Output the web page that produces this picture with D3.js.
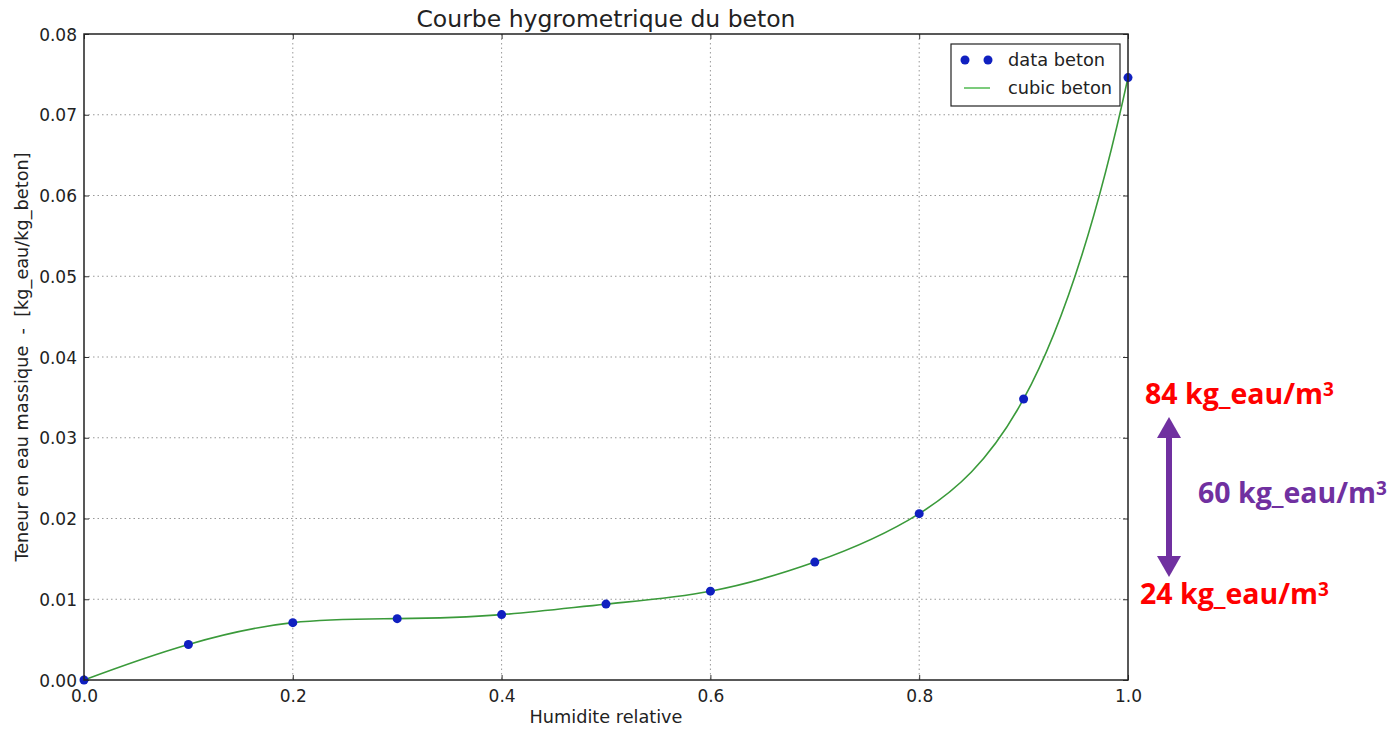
<!DOCTYPE html>
<html lang="fr">
<head>
	<meta charset="UTF-8">
	<title>Courbe hygrometrique du beton</title>
	<script src="https://cdn.jsdelivr.net/npm/d3@7"></script>
	<style>
		body { margin: 0; background: #fff; }
		text { font-family: "DejaVu Sans", sans-serif; fill: #222; }
		.grid line { stroke: #999; stroke-dasharray: 1.5,3; stroke-width: 1; }
		.note { font-family: "Open Sans", "Lato", sans-serif; font-weight: bold; }
	</style>
</head>
<body>
	<svg id="svg"></svg>
	<script>
		// humidite relative / teneur en eau massique
		var humidite = [0.0, 0.1, 0.2, 0.3, 0.4, 0.5, 0.6, 0.7, 0.8, 0.9, 1.0];
		var teneur = [0.0, 0.0044, 0.0071, 0.0076, 0.0081, 0.0094, 0.0110, 0.0146, 0.0206, 0.0348, 0.0746];
		var xTicks = [0.0, 0.2, 0.4, 0.6, 0.8, 1.0];
		var yTicks = [0.00, 0.01, 0.02, 0.03, 0.04, 0.05, 0.06, 0.07, 0.08];
		var legendLabels = ["data beton", "cubic beton"];
		var notes = ["84 kg_eau/m", "60 kg_eau/m", "24 kg_eau/m"];

		var w = 1398, h = 730,
			pLeft = 84, pRight = 1128, pTop = 34, pBottom = 680;
		var svg = d3.select("#svg").attr("width", w).attr("height", h);

		var x = d3.scaleLinear().domain([0, 1]).range([pLeft, pRight]);
		var y = d3.scaleLinear().domain([0, 0.08]).range([pBottom, pTop]);

		// courbe d3 : spline cubique "not-a-knot" (comme interp1d kind='cubic')
		function curveNotAKnot(context) {
			var xs, ys;
			return {
				areaStart: function() {}, areaEnd: function() {},
				lineStart: function() { xs = []; ys = []; },
				point: function(px, py) { xs.push(+px); ys.push(+py); },
				lineEnd: function() {
					var n = xs.length;
					if (n < 4) {
						context.moveTo(xs[0], ys[0]);
						for (var k = 1; k < n; k++) context.lineTo(xs[k], ys[k]);
						return;
					}
					var hs = [];
					for (var i = 0; i < n - 1; i++) hs.push(xs[i + 1] - xs[i]);
					// systeme sur les derivees secondes M
					var A = [], b = [];
					for (i = 0; i < n; i++) { A.push(new Array(n).fill(0)); b.push(0); }
					A[0][0] = hs[1]; A[0][1] = -(hs[0] + hs[1]); A[0][2] = hs[0];
					for (i = 1; i < n - 1; i++) {
						A[i][i - 1] = hs[i - 1]; A[i][i] = 2 * (hs[i - 1] + hs[i]); A[i][i + 1] = hs[i];
						b[i] = 6 * ((ys[i + 1] - ys[i]) / hs[i] - (ys[i] - ys[i - 1]) / hs[i - 1]);
					}
					A[n - 1][n - 3] = hs[n - 2]; A[n - 1][n - 2] = -(hs[n - 3] + hs[n - 2]); A[n - 1][n - 1] = hs[n - 3];
					// elimination de Gauss avec pivot
					for (var c = 0; c < n; c++) {
						var p = c;
						for (var r = c + 1; r < n; r++) if (Math.abs(A[r][c]) > Math.abs(A[p][c])) p = r;
						var t = A[c]; A[c] = A[p]; A[p] = t; t = b[c]; b[c] = b[p]; b[p] = t;
						for (r = c + 1; r < n; r++) {
							var f = A[r][c] / A[c][c];
							for (var j = c; j < n; j++) A[r][j] -= f * A[c][j];
							b[r] -= f * b[c];
						}
					}
					var M = new Array(n).fill(0);
					for (i = n - 1; i >= 0; i--) {
						var s = b[i];
						for (j = i + 1; j < n; j++) s -= A[i][j] * M[j];
						M[i] = s / A[i][i];
					}
					context.moveTo(xs[0], ys[0]);
					for (i = 0; i < n - 1; i++) {
						var hh = hs[i], d = (ys[i + 1] - ys[i]) / hh;
						var s0 = d - hh * (2 * M[i] + M[i + 1]) / 6;
						var s1 = d + hh * (M[i] + 2 * M[i + 1]) / 6;
						context.bezierCurveTo(xs[i] + hh / 3, ys[i] + s0 * hh / 3,
							xs[i + 1] - hh / 3, ys[i + 1] - s1 * hh / 3, xs[i + 1], ys[i + 1]);
					}
				}
			};
		}

		// grille pointillee
		svg.append("g").attr("class", "grid")
			.selectAll("line").data(xTicks.slice(1, -1)).enter().append("line")
			.attr("x1", function(d) { return x(d); }).attr("x2", function(d) { return x(d); })
			.attr("y1", pTop).attr("y2", pBottom);
		svg.append("g").attr("class", "grid")
			.selectAll("line").data(yTicks.slice(1, -1)).enter().append("line")
			.attr("y1", function(d) { return y(d); }).attr("y2", function(d) { return y(d); })
			.attr("x1", pLeft).attr("x2", pRight);

		// axes (graduations vers l'interieur, style matplotlib)
		var fmtY = d3.format(".2f"), fmtX = d3.format(".1f");
		var ax = svg.append("g").attr("transform", "translate(0," + pBottom + ")")
			.call(d3.axisBottom(x).tickValues(xTicks).tickFormat(fmtX).tickSizeInner(-5).tickSizeOuter(0).tickPadding(10));
		var ay = svg.append("g").attr("transform", "translate(" + pLeft + ",0)")
			.call(d3.axisLeft(y).tickValues(yTicks).tickFormat(fmtY).tickSizeInner(-5).tickSizeOuter(0).tickPadding(7));
		svg.append("g").attr("transform", "translate(0," + pTop + ")")
			.call(d3.axisTop(x).tickValues(xTicks).tickFormat("").tickSizeInner(-5).tickSizeOuter(0));
		svg.append("g").attr("transform", "translate(" + pRight + ",0)")
			.call(d3.axisRight(y).tickValues(yTicks).tickFormat("").tickSizeInner(-5).tickSizeOuter(0));
		svg.selectAll(".domain").remove();
		svg.selectAll(".tick line").attr("stroke", "#333");
		svg.selectAll(".tick text").attr("font-family", null).attr("font-size", null);
		ax.selectAll("text").style("font-size", "17px").attr("fill", "#222");
		ay.selectAll("text").style("font-size", "17px").attr("fill", "#222").attr("dy", "0.36em");

		// courbe cubique
		var line = d3.line()
			.x(function(d, i) { return x(humidite[i]); })
			.y(function(d) { return y(d); })
			.curve(curveNotAKnot);
		svg.append("path").datum(teneur)
			.attr("d", line)
			.attr("fill", "none")
			.attr("stroke", "#3a9a3a")
			.attr("stroke-width", 1.6);

		// points
		svg.selectAll(".pt").data(teneur).enter().append("circle")
			.attr("class", "pt")
			.attr("cx", function(d, i) { return x(humidite[i]); })
			.attr("cy", function(d) { return y(d); })
			.attr("r", 4.5)
			.attr("fill", "#1020c0");

		// cadre
		svg.append("rect")
			.attr("x", pLeft).attr("y", pTop)
			.attr("width", pRight - pLeft).attr("height", pBottom - pTop)
			.attr("fill", "none").attr("stroke", "#222").attr("stroke-width", 1.5);

		// titre et libelles
		svg.append("text").attr("x", (pLeft + pRight) / 2).attr("y", 27)
			.attr("text-anchor", "middle").style("font-size", "23.5px")
			.text("Courbe hygrometrique du beton");
		svg.append("text").attr("x", (pLeft + pRight) / 2).attr("y", 723)
			.attr("text-anchor", "middle").style("font-size", "17.7px")
			.text("Humidite relative");
		svg.append("text")
			.attr("transform", "translate(28," + ((pTop + pBottom) / 2) + ") rotate(-90)")
			.attr("text-anchor", "middle").style("font-size", "17.7px")
			.style("white-space", "pre")
			.text("Teneur en eau massique  -  [kg_eau/kg_beton]");

		// legende
		var lg = svg.append("g").attr("transform", "translate(951,44)");
		lg.append("rect").attr("width", 169).attr("height", 62)
			.attr("fill", "#fff").attr("stroke", "#222").attr("stroke-width", 1.2);
		lg.selectAll(".ld").data([14, 37]).enter().append("circle")
			.attr("cx", function(d) { return d; }).attr("cy", 16).attr("r", 4.5).attr("fill", "#1020c0");
		lg.append("line").attr("x1", 13).attr("x2", 39).attr("y1", 44).attr("y2", 44)
			.attr("stroke", "#5cbf5c").attr("stroke-width", 1.6);
		lg.selectAll(".lt").data(legendLabels).enter().append("text")
			.attr("x", 57).attr("y", function(d, i) { return 22 + i * 28; })
			.style("font-size", "17.8px").text(function(d) { return d; });

		// annotation
		var purple = "#7030a0", red = "#ff0000";
		var noteData = [
			{ t: notes[0], x: 1145, y: 404, c: red },
			{ t: notes[1], x: 1198, y: 503, c: purple },
			{ t: notes[2], x: 1140, y: 604, c: red }
		];
		var nt = svg.selectAll(".note").data(noteData).enter().append("text")
			.attr("class", "note")
			.attr("x", function(d) { return d.x; })
			.attr("y", function(d) { return d.y; })
			.style("font-size", "28.5px")
			.style("fill", function(d) { return d.c; });
		nt.append("tspan").text(function(d) { return d.t; });
		nt.append("tspan").attr("dy", "-0.42em").style("font-size", "19px").text("3");

		var ax0 = 1169, ay0 = 417, ay1 = 577;
		svg.append("line").attr("x1", ax0).attr("x2", ax0).attr("y1", ay0 + 18).attr("y2", ay1 - 18)
			.attr("stroke", purple).attr("stroke-width", 6);
		svg.append("path")
			.attr("d", "M" + ax0 + "," + ay0 + "L" + (ax0 + 12) + "," + (ay0 + 21) + "L" + (ax0 - 12) + "," + (ay0 + 21) + "Z")
			.attr("fill", purple);
		svg.append("path")
			.attr("d", "M" + ax0 + "," + ay1 + "L" + (ax0 + 12) + "," + (ay1 - 21) + "L" + (ax0 - 12) + "," + (ay1 - 21) + "Z")
			.attr("fill", purple);
	</script>
</body>
</html>
